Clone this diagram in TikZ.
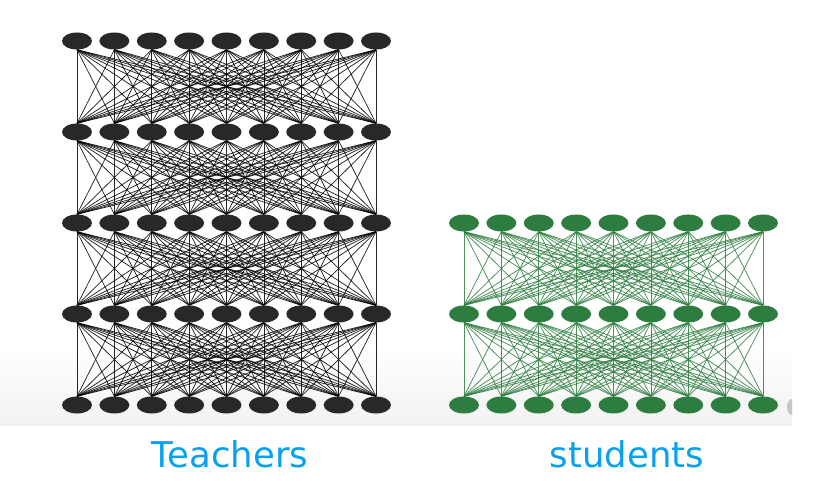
\documentclass[tikz,border=0pt]{standalone}
\usepackage{fontspec}
\setmainfont{DejaVu Sans}
\usetikzlibrary{shapes.geometric}
\definecolor{tblack}{RGB}{40,40,40}
\definecolor{sgreen}{RGB}{46,125,64}
\definecolor{lblue}{RGB}{8,160,240}
\begin{document}
\begin{tikzpicture}[x=1pt,y=-1pt,
  unit/.style={ellipse,inner sep=0pt,minimum width=30pt,minimum height=17pt},
  tunit/.style={unit,fill=tblack},
  sunit/.style={unit,fill=sgreen},
  tedge/.style={draw=black,line width=0.75pt,opacity=0.85},
  sedge/.style={draw=sgreen,line width=0.75pt,opacity=0.85},
  lbl/.style={text=lblue,font=\fontsize{35.5}{40}\selectfont,inner sep=0pt}]
\useasboundingbox (0,0) rectangle (820,481);
\shade[top color=white,bottom color=black!5] (0,345) rectangle (792,425);
\begin{scope}
\clip (784,395) rectangle (792,420);
\fill[black!22] (792,407) ellipse (5pt and 8pt);
\end{scope}
% teacher nodes
\foreach \j in {0,...,4}{
  \foreach \i in {0,...,8}{
    \node[tunit] (t-\j-\i) at ({77+37.375*\i},{41+91*\j}) {};
  }
}
% student nodes
\foreach \j in {0,...,2}{
  \foreach \i in {0,...,8}{
    \node[sunit] (s-\j-\i) at ({464+37.375*\i},{223+91*\j}) {};
  }
}
% teacher edges
\foreach \j [evaluate=\j as \jn using int(\j+1)] in {0,...,3}{
  \foreach \i in {0,...,8}{
    \foreach \k in {0,...,8}{
      \draw[tedge] (t-\j-\i.south) -- (t-\jn-\k.north);
    }
  }
}
% student edges
\foreach \j [evaluate=\j as \jn using int(\j+1)] in {0,...,1}{
  \foreach \i in {0,...,8}{
    \foreach \k in {0,...,8}{
      \draw[sedge] (s-\j-\i.south) -- (s-\jn-\k.north);
    }
  }
}
\node[lbl,anchor=base] (teach) at (230,467) {Teachers};
\node[lbl,anchor=base] (stud) at (627,467) {students};
\end{tikzpicture}
\end{document}
